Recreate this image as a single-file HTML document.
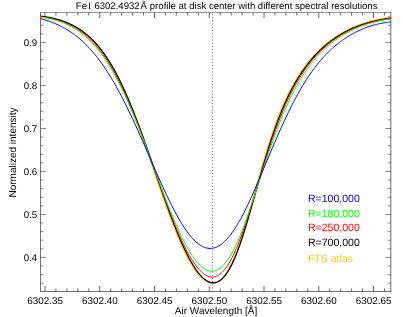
<!DOCTYPE html>
<html><head><meta charset="utf-8"><title>Fe I profile</title>
<style>html,body{margin:0;padding:0;background:#fff;overflow:hidden}body{width:403px;height:317px;font-family:"Liberation Sans",sans-serif}svg text{font-family:"Liberation Sans",sans-serif}</style></head>
<body>
<svg width="403" height="317" viewBox="0 0 403 317" style="display:block;will-change:transform">
<rect width="403" height="317" fill="#fff"/>
<clipPath id="c"><rect x="40.2" y="12.5" width="350.90" height="279.0"/></clipPath>
<g fill="none" stroke="#000"><path d="M40.5,12.3V291.8" stroke-width="0.55"/><path d="M40.25,12.5H391.1" stroke-width="0.42"/><path d="M390.8,12.3V291.8" stroke-width="0.6"/><path d="M40.25,291.5H391.1" stroke-width="0.56"/></g>
<path d="M45.00,291.5v-5.5M45.00,12.5v5.5M55.95,291.5v-3.0M55.95,12.5v3.0M66.90,291.5v-3.0M66.90,12.5v3.0M77.85,291.5v-3.0M77.85,12.5v3.0M88.80,291.5v-3.0M88.80,12.5v3.0M99.75,291.5v-5.5M99.75,12.5v5.5M110.70,291.5v-3.0M110.70,12.5v3.0M121.65,291.5v-3.0M121.65,12.5v3.0M132.60,291.5v-3.0M132.60,12.5v3.0M143.55,291.5v-3.0M143.55,12.5v3.0M154.50,291.5v-5.5M154.50,12.5v5.5M165.45,291.5v-3.0M165.45,12.5v3.0M176.40,291.5v-3.0M176.40,12.5v3.0M187.35,291.5v-3.0M187.35,12.5v3.0M198.30,291.5v-3.0M198.30,12.5v3.0M209.25,291.5v-5.5M209.25,12.5v5.5M220.20,291.5v-3.0M220.20,12.5v3.0M231.15,291.5v-3.0M231.15,12.5v3.0M242.10,291.5v-3.0M242.10,12.5v3.0M253.05,291.5v-3.0M253.05,12.5v3.0M264.00,291.5v-5.5M264.00,12.5v5.5M274.95,291.5v-3.0M274.95,12.5v3.0M285.90,291.5v-3.0M285.90,12.5v3.0M296.85,291.5v-3.0M296.85,12.5v3.0M307.80,291.5v-3.0M307.80,12.5v3.0M318.75,291.5v-5.5M318.75,12.5v5.5M329.70,291.5v-3.0M329.70,12.5v3.0M340.65,291.5v-3.0M340.65,12.5v3.0M351.60,291.5v-3.0M351.60,12.5v3.0M362.55,291.5v-3.0M362.55,12.5v3.0M373.50,291.5v-5.5M373.50,12.5v5.5M384.45,291.5v-3.0M384.45,12.5v3.0" fill="none" stroke="#000" stroke-width="0.6"/>
<path d="M40.5,283.21h3.0M390.8,283.21h-3.0M40.5,274.61h3.0M390.8,274.61h-3.0M40.5,266.02h3.0M390.8,266.02h-3.0M40.5,257.42h5.5M390.8,257.42h-5.5M40.5,248.82h3.0M390.8,248.82h-3.0M40.5,240.23h3.0M390.8,240.23h-3.0M40.5,231.63h3.0M390.8,231.63h-3.0M40.5,223.03h3.0M390.8,223.03h-3.0M40.5,214.44h5.5M390.8,214.44h-5.5M40.5,205.84h3.0M390.8,205.84h-3.0M40.5,197.24h3.0M390.8,197.24h-3.0M40.5,188.64h3.0M390.8,188.64h-3.0M40.5,180.05h3.0M390.8,180.05h-3.0M40.5,171.45h5.5M390.8,171.45h-5.5M40.5,162.85h3.0M390.8,162.85h-3.0M40.5,154.26h3.0M390.8,154.26h-3.0M40.5,145.66h3.0M390.8,145.66h-3.0M40.5,137.06h3.0M390.8,137.06h-3.0M40.5,128.47h5.5M390.8,128.47h-5.5M40.5,119.87h3.0M390.8,119.87h-3.0M40.5,111.27h3.0M390.8,111.27h-3.0M40.5,102.67h3.0M390.8,102.67h-3.0M40.5,94.08h3.0M390.8,94.08h-3.0M40.5,85.48h5.5M390.8,85.48h-5.5M40.5,76.88h3.0M390.8,76.88h-3.0M40.5,68.29h3.0M390.8,68.29h-3.0M40.5,59.69h3.0M390.8,59.69h-3.0M40.5,51.09h3.0M390.8,51.09h-3.0M40.5,42.50h5.5M390.8,42.50h-5.5M40.5,33.90h3.0M390.8,33.90h-3.0M40.5,25.30h3.0M390.8,25.30h-3.0M40.5,16.70h3.0M390.8,16.70h-3.0" fill="none" stroke="#000" stroke-width="0.47"/>
<line x1="212.45" y1="14.25" x2="212.45" y2="291.5" stroke="#1a1a1a" stroke-width="0.8" stroke-dasharray="0.85 2.328"/>
<g clip-path="url(#c)" fill="none" stroke-width="0.95" stroke-linejoin="round">
<path d="M39.43,16.39 L40.52,16.50 L41.62,16.63 L42.71,16.76 L43.81,16.90 L44.90,17.06 L45.99,17.22 L47.09,17.40 L48.18,17.59 L49.28,17.79 L50.37,18.00 L51.47,18.23 L52.56,18.47 L53.65,18.72 L54.75,18.99 L55.84,19.27 L56.94,19.56 L58.03,19.88 L59.13,20.20 L60.22,20.54 L61.31,20.90 L62.41,21.28 L63.50,21.68 L64.60,22.09 L65.69,22.52 L66.79,22.97 L67.88,23.44 L68.97,23.93 L70.07,24.45 L71.16,24.98 L72.26,25.54 L73.35,26.13 L74.45,26.73 L75.54,27.37 L76.63,28.02 L77.73,28.70 L78.82,29.41 L79.92,30.15 L81.01,30.91 L82.11,31.70 L83.20,32.52 L84.29,33.37 L85.39,34.26 L86.48,35.17 L87.58,36.12 L88.67,37.10 L89.77,38.12 L90.86,39.17 L91.95,40.26 L93.05,41.39 L94.14,42.55 L95.24,43.75 L96.33,45.00 L97.43,46.29 L98.52,47.61 L99.61,48.98 L100.71,50.40 L101.80,51.85 L102.90,53.35 L103.99,54.90 L105.09,56.50 L106.18,58.13 L107.28,59.82 L108.37,61.56 L109.46,63.34 L110.56,65.17 L111.65,67.05 L112.75,68.97 L113.84,70.95 L114.94,72.97 L116.03,75.05 L117.12,77.17 L118.22,79.34 L119.31,81.56 L120.41,83.83 L121.50,86.15 L122.60,88.51 L123.69,90.92 L124.78,93.38 L125.88,95.88 L126.97,98.43 L128.07,101.02 L129.16,103.65 L130.26,106.33 L131.35,109.04 L132.44,111.80 L133.54,114.59 L134.63,117.42 L135.73,120.29 L136.82,123.19 L137.92,126.12 L139.01,129.08 L140.10,132.08 L141.20,135.09 L142.29,138.14 L143.39,141.21 L144.48,144.30 L145.58,147.40 L146.67,150.53 L147.76,153.67 L148.86,156.82 L149.95,159.99 L151.05,163.16 L152.14,166.34 L153.24,169.53 L154.33,172.71 L155.42,175.90 L156.52,179.08 L157.61,182.26 L158.71,185.43 L159.80,188.59 L160.90,191.74 L161.99,194.87 L163.08,197.98 L164.18,201.08 L165.27,204.15 L166.37,207.20 L167.46,210.22 L168.56,213.21 L169.65,216.17 L170.74,219.10 L171.84,221.99 L172.93,224.84 L174.03,227.65 L175.12,230.41 L176.22,233.13 L177.31,235.80 L178.40,238.43 L179.50,240.99 L180.59,243.51 L181.69,245.97 L182.78,248.36 L183.88,250.70 L184.97,252.98 L186.06,255.19 L187.16,257.33 L188.25,259.40 L189.35,261.40 L190.44,263.33 L191.54,265.19 L192.63,266.97 L193.72,268.67 L194.82,270.29 L195.91,271.83 L197.01,273.28 L198.10,274.65 L199.20,275.93 L200.29,277.12 L201.38,278.21 L202.48,279.22 L203.57,280.12 L204.67,280.93 L205.76,281.64 L206.86,282.24 L207.95,282.74 L209.04,283.13 L210.14,283.42 L211.23,283.58 L212.33,283.63 L213.42,283.57 L214.52,283.38 L215.61,283.07 L216.71,282.64 L217.80,282.07 L218.89,281.38 L219.99,280.55 L221.08,279.60 L222.18,278.50 L223.27,277.27 L224.37,275.90 L225.46,274.39 L226.55,272.74 L227.65,270.95 L228.74,269.02 L229.84,266.95 L230.93,264.75 L232.03,262.41 L233.12,259.94 L234.21,257.34 L235.31,254.61 L236.40,251.76 L237.50,248.79 L238.59,245.70 L239.69,242.51 L240.78,239.22 L241.87,235.83 L242.97,232.35 L244.06,228.79 L245.16,225.15 L246.25,221.45 L247.35,217.68 L248.44,213.87 L249.53,210.01 L250.63,206.12 L251.72,202.20 L252.82,198.26 L253.91,194.30 L255.01,190.35 L256.10,186.40 L257.19,182.46 L258.29,178.54 L259.38,174.65 L260.48,170.78 L261.57,166.96 L262.67,163.17 L263.76,159.44 L264.85,155.76 L265.95,152.13 L267.04,148.56 L268.14,145.06 L269.23,141.62 L270.33,138.25 L271.42,134.96 L272.51,131.73 L273.61,128.57 L274.70,125.49 L275.80,122.49 L276.89,119.55 L277.99,116.69 L279.08,113.91 L280.17,111.19 L281.27,108.55 L282.36,105.97 L283.46,103.47 L284.55,101.03 L285.65,98.66 L286.74,96.36 L287.83,94.12 L288.93,91.93 L290.02,89.81 L291.12,87.75 L292.21,85.74 L293.31,83.78 L294.40,81.88 L295.49,80.03 L296.59,78.23 L297.68,76.48 L298.78,74.77 L299.87,73.11 L300.97,71.48 L302.06,69.89 L303.15,68.34 L304.25,66.84 L305.34,65.37 L306.44,63.93 L307.53,62.54 L308.63,61.18 L309.72,59.85 L310.81,58.55 L311.91,57.29 L313.00,56.06 L314.10,54.86 L315.19,53.69 L316.29,52.55 L317.38,51.43 L318.47,50.35 L319.57,49.28 L320.66,48.25 L321.76,47.24 L322.85,46.26 L323.95,45.30 L325.04,44.36 L326.14,43.45 L327.23,42.56 L328.32,41.69 L329.42,40.84 L330.51,40.02 L331.61,39.21 L332.70,38.43 L333.80,37.66 L334.89,36.92 L335.98,36.19 L337.08,35.48 L338.17,34.79 L339.27,34.12 L340.36,33.46 L341.46,32.82 L342.55,32.20 L343.64,31.60 L344.74,31.01 L345.83,30.43 L346.93,29.87 L348.02,29.33 L349.12,28.80 L350.21,28.28 L351.30,27.78 L352.40,27.30 L353.49,26.82 L354.59,26.36 L355.68,25.91 L356.78,25.48 L357.87,25.05 L358.96,24.64 L360.06,24.25 L361.15,23.86 L362.25,23.48 L363.34,23.12 L364.44,22.77 L365.53,22.42 L366.62,22.09 L367.72,21.77 L368.81,21.46 L369.91,21.16 L371.00,20.87 L372.10,20.58 L373.19,20.31 L374.28,20.05 L375.38,19.80 L376.47,19.55 L377.57,19.31 L378.66,19.09 L379.76,18.87 L380.85,18.66 L381.94,18.46 L383.04,18.26 L384.13,18.07 L385.23,17.90 L386.32,17.72 L387.42,17.56 L388.51,17.40 L389.60,17.26 L390.70,17.11 L391.79,16.98" stroke="#ffcc00" stroke-width="1.0"/>
<path d="M39.43,16.07 L40.52,16.19 L41.62,16.32 L42.71,16.46 L43.81,16.60 L44.90,16.76 L45.99,16.93 L47.09,17.11 L48.18,17.30 L49.28,17.50 L50.37,17.71 L51.47,17.94 L52.56,18.18 L53.65,18.43 L54.75,18.69 L55.84,18.97 L56.94,19.26 L58.03,19.57 L59.13,19.89 L60.22,20.22 L61.31,20.58 L62.41,20.94 L63.50,21.33 L64.60,21.73 L65.69,22.15 L66.79,22.59 L67.88,23.05 L68.97,23.53 L70.07,24.03 L71.16,24.55 L72.26,25.09 L73.35,25.66 L74.45,26.25 L75.54,26.86 L76.63,27.49 L77.73,28.15 L78.82,28.84 L79.92,29.55 L81.01,30.29 L82.11,31.06 L83.20,31.85 L84.29,32.68 L85.39,33.53 L86.48,34.42 L87.58,35.34 L88.67,36.29 L89.77,37.28 L90.86,38.30 L91.95,39.35 L93.05,40.45 L94.14,41.58 L95.24,42.75 L96.33,43.95 L97.43,45.20 L98.52,46.49 L99.61,47.82 L100.71,49.19 L101.80,50.61 L102.90,52.06 L103.99,53.57 L105.09,55.12 L106.18,56.71 L107.28,58.35 L108.37,60.03 L109.46,61.77 L110.56,63.55 L111.65,65.38 L112.75,67.25 L113.84,69.18 L114.94,71.15 L116.03,73.17 L117.12,75.24 L118.22,77.36 L119.31,79.53 L120.41,81.74 L121.50,84.00 L122.60,86.31 L123.69,88.67 L124.78,91.07 L125.88,93.52 L126.97,96.01 L128.07,98.55 L129.16,101.13 L130.26,103.75 L131.35,106.41 L132.44,109.12 L133.54,111.86 L134.63,114.64 L135.73,117.46 L136.82,120.31 L137.92,123.20 L139.01,126.12 L140.10,129.07 L141.20,132.04 L142.29,135.05 L143.39,138.07 L144.48,141.13 L145.58,144.20 L146.67,147.29 L147.76,150.40 L148.86,153.52 L149.95,156.66 L151.05,159.81 L152.14,162.97 L153.24,166.13 L154.33,169.30 L155.42,172.47 L156.52,175.63 L157.61,178.80 L158.71,181.96 L159.80,185.11 L160.90,188.26 L161.99,191.39 L163.08,194.50 L164.18,197.60 L165.27,200.68 L166.37,203.74 L167.46,206.77 L168.56,209.78 L169.65,212.75 L170.74,215.70 L171.84,218.61 L172.93,221.48 L174.03,224.32 L175.12,227.12 L176.22,229.87 L177.31,232.58 L178.40,235.23 L179.50,237.84 L180.59,240.40 L181.69,242.90 L182.78,245.35 L183.88,247.74 L184.97,250.07 L186.06,252.33 L187.16,254.53 L188.25,256.66 L189.35,258.73 L190.44,260.72 L191.54,262.64 L192.63,264.49 L193.72,266.26 L194.82,267.95 L195.91,269.57 L197.01,271.10 L198.10,272.54 L199.20,273.90 L200.29,275.17 L201.38,276.36 L202.48,277.44 L203.57,278.44 L204.67,279.34 L205.76,280.14 L206.86,280.84 L207.95,281.43 L209.04,281.92 L210.14,282.30 L211.23,282.57 L212.33,282.73 L213.42,282.77 L214.52,282.70 L215.61,282.50 L216.71,282.19 L217.80,281.75 L218.89,281.18 L219.99,280.48 L221.08,279.65 L222.18,278.69 L223.27,277.60 L224.37,276.37 L225.46,275.00 L226.55,273.50 L227.65,271.86 L228.74,270.09 L229.84,268.18 L230.93,266.13 L232.03,263.95 L233.12,261.64 L234.21,259.20 L235.31,256.63 L236.40,253.94 L237.50,251.13 L238.59,248.20 L239.69,245.16 L240.78,242.02 L241.87,238.78 L242.97,235.45 L244.06,232.02 L245.16,228.52 L246.25,224.94 L247.35,221.30 L248.44,217.60 L249.53,213.84 L250.63,210.05 L251.72,206.21 L252.82,202.35 L253.91,198.47 L255.01,194.58 L256.10,190.68 L257.19,186.78 L258.29,182.89 L259.38,179.01 L260.48,175.16 L261.57,171.34 L262.67,167.55 L263.76,163.80 L264.85,160.09 L265.95,156.44 L267.04,152.83 L268.14,149.28 L269.23,145.80 L270.33,142.37 L271.42,139.01 L272.51,135.72 L273.61,132.50 L274.70,129.34 L275.80,126.26 L276.89,123.25 L277.99,120.31 L279.08,117.44 L280.17,114.64 L281.27,111.91 L282.36,109.26 L283.46,106.67 L284.55,104.15 L285.65,101.70 L286.74,99.31 L287.83,96.99 L288.93,94.73 L290.02,92.53 L291.12,90.39 L292.21,88.31 L293.31,86.29 L294.40,84.32 L295.49,82.40 L296.59,80.53 L297.68,78.72 L298.78,76.95 L299.87,75.23 L300.97,73.55 L302.06,71.92 L303.15,70.33 L304.25,68.78 L305.34,67.27 L306.44,65.80 L307.53,64.37 L308.63,62.97 L309.72,61.61 L310.81,60.29 L311.91,59.00 L313.00,57.73 L314.10,56.51 L315.19,55.31 L316.29,54.14 L317.38,53.00 L318.47,51.89 L319.57,50.81 L320.66,49.75 L321.76,48.72 L322.85,47.71 L323.95,46.74 L325.04,45.78 L326.14,44.85 L327.23,43.94 L328.32,43.06 L329.42,42.19 L330.51,41.35 L331.61,40.53 L332.70,39.73 L333.80,38.95 L334.89,38.19 L335.98,37.46 L337.08,36.73 L338.17,36.03 L339.27,35.35 L340.36,34.68 L341.46,34.03 L342.55,33.40 L343.64,32.79 L344.74,32.19 L345.83,31.61 L346.93,31.04 L348.02,30.49 L349.12,29.95 L350.21,29.43 L351.30,28.92 L352.40,28.43 L353.49,27.95 L354.59,27.48 L355.68,27.03 L356.78,26.59 L357.87,26.16 L358.96,25.75 L360.06,25.35 L361.15,24.95 L362.25,24.58 L363.34,24.21 L364.44,23.85 L365.53,23.51 L366.62,23.17 L367.72,22.85 L368.81,22.54 L369.91,22.24 L371.00,21.94 L372.10,21.66 L373.19,21.39 L374.28,21.12 L375.38,20.87 L376.47,20.63 L377.57,20.39 L378.66,20.16 L379.76,19.94 L380.85,19.73 L381.94,19.53 L383.04,19.34 L384.13,19.15 L385.23,18.98 L386.32,18.81 L387.42,18.65 L388.51,18.49 L389.60,18.34 L390.70,18.20 L391.79,18.07" stroke="#000000" stroke-width="1.3"/>
<path d="M39.43,16.51 L40.52,16.64 L41.62,16.78 L42.71,16.93 L43.81,17.09 L44.90,17.27 L45.99,17.45 L47.09,17.65 L48.18,17.85 L49.28,18.07 L50.37,18.31 L51.47,18.55 L52.56,18.81 L53.65,19.08 L54.75,19.37 L55.84,19.67 L56.94,19.98 L58.03,20.31 L59.13,20.66 L60.22,21.02 L61.31,21.40 L62.41,21.80 L63.50,22.21 L64.60,22.64 L65.69,23.10 L66.79,23.57 L67.88,24.06 L68.97,24.57 L70.07,25.11 L71.16,25.66 L72.26,26.24 L73.35,26.84 L74.45,27.47 L75.54,28.12 L76.63,28.80 L77.73,29.50 L78.82,30.23 L79.92,30.98 L81.01,31.76 L82.11,32.57 L83.20,33.41 L84.29,34.28 L85.39,35.18 L86.48,36.11 L87.58,37.08 L88.67,38.07 L89.77,39.10 L90.86,40.17 L91.95,41.27 L93.05,42.40 L94.14,43.58 L95.24,44.79 L96.33,46.04 L97.43,47.32 L98.52,48.65 L99.61,50.02 L100.71,51.43 L101.80,52.88 L102.90,54.37 L103.99,55.90 L105.09,57.48 L106.18,59.10 L107.28,60.76 L108.37,62.47 L109.46,64.23 L110.56,66.02 L111.65,67.87 L112.75,69.75 L113.84,71.69 L114.94,73.66 L116.03,75.69 L117.12,77.75 L118.22,79.87 L119.31,82.02 L120.41,84.23 L121.50,86.47 L122.60,88.76 L123.69,91.09 L124.78,93.47 L125.88,95.88 L126.97,98.34 L128.07,100.84 L129.16,103.38 L130.26,105.95 L131.35,108.56 L132.44,111.21 L133.54,113.90 L134.63,116.62 L135.73,119.37 L136.82,122.15 L137.92,124.96 L139.01,127.80 L140.10,130.67 L141.20,133.57 L142.29,136.48 L143.39,139.42 L144.48,142.38 L145.58,145.36 L146.67,148.36 L147.76,151.37 L148.86,154.39 L149.95,157.42 L151.05,160.47 L152.14,163.52 L153.24,166.57 L154.33,169.63 L155.42,172.68 L156.52,175.74 L157.61,178.79 L158.71,181.83 L159.80,184.87 L160.90,187.90 L161.99,190.91 L163.08,193.91 L164.18,196.89 L165.27,199.85 L166.37,202.78 L167.46,205.70 L168.56,208.58 L169.65,211.44 L170.74,214.27 L171.84,217.06 L172.93,219.82 L174.03,222.54 L175.12,225.22 L176.22,227.85 L177.31,230.44 L178.40,232.99 L179.50,235.49 L180.59,237.93 L181.69,240.32 L182.78,242.66 L183.88,244.93 L184.97,247.15 L186.06,249.31 L187.16,251.40 L188.25,253.42 L189.35,255.38 L190.44,257.27 L191.54,259.08 L192.63,260.82 L193.72,262.48 L194.82,264.07 L195.91,265.57 L197.01,266.99 L198.10,268.33 L199.20,269.58 L200.29,270.74 L201.38,271.80 L202.48,272.78 L203.57,273.66 L204.67,274.44 L205.76,275.12 L206.86,275.71 L207.95,276.18 L209.04,276.56 L210.14,276.82 L211.23,276.98 L212.33,277.03 L213.42,276.96 L214.52,276.78 L215.61,276.48 L216.71,276.07 L217.80,275.54 L218.89,274.89 L219.99,274.12 L221.08,273.23 L222.18,272.22 L223.27,271.08 L224.37,269.83 L225.46,268.45 L226.55,266.95 L227.65,265.33 L228.74,263.60 L229.84,261.74 L230.93,259.77 L232.03,257.68 L233.12,255.48 L234.21,253.17 L235.31,250.76 L236.40,248.24 L237.50,245.62 L238.59,242.90 L239.69,240.09 L240.78,237.19 L241.87,234.21 L242.97,231.15 L244.06,228.02 L245.16,224.81 L246.25,221.54 L247.35,218.22 L248.44,214.84 L249.53,211.42 L250.63,207.95 L251.72,204.45 L252.82,200.92 L253.91,197.37 L255.01,193.80 L256.10,190.22 L257.19,186.63 L258.29,183.04 L259.38,179.45 L260.48,175.88 L261.57,172.32 L262.67,168.78 L263.76,165.26 L264.85,161.77 L265.95,158.32 L267.04,154.90 L268.14,151.52 L269.23,148.18 L270.33,144.89 L271.42,141.65 L272.51,138.46 L273.61,135.32 L274.70,132.23 L275.80,129.20 L276.89,126.23 L277.99,123.32 L279.08,120.47 L280.17,117.68 L281.27,114.94 L282.36,112.27 L283.46,109.66 L284.55,107.11 L285.65,104.62 L286.74,102.19 L287.83,99.82 L288.93,97.51 L290.02,95.25 L291.12,93.05 L292.21,90.91 L293.31,88.82 L294.40,86.79 L295.49,84.81 L296.59,82.87 L297.68,80.99 L298.78,79.16 L299.87,77.38 L300.97,75.64 L302.06,73.94 L303.15,72.30 L304.25,70.69 L305.34,69.12 L306.44,67.60 L307.53,66.11 L308.63,64.67 L309.72,63.26 L310.81,61.89 L311.91,60.55 L313.00,59.24 L314.10,57.97 L315.19,56.74 L316.29,55.53 L317.38,54.35 L318.47,53.21 L319.57,52.09 L320.66,51.00 L321.76,49.94 L322.85,48.90 L323.95,47.90 L325.04,46.91 L326.14,45.95 L327.23,45.02 L328.32,44.11 L329.42,43.22 L330.51,42.36 L331.61,41.51 L332.70,40.69 L333.80,39.89 L334.89,39.11 L335.98,38.35 L337.08,37.61 L338.17,36.89 L339.27,36.19 L340.36,35.51 L341.46,34.84 L342.55,34.19 L343.64,33.56 L344.74,32.95 L345.83,32.35 L346.93,31.76 L348.02,31.20 L349.12,30.65 L350.21,30.11 L351.30,29.59 L352.40,29.08 L353.49,28.59 L354.59,28.11 L355.68,27.65 L356.78,27.19 L357.87,26.76 L358.96,26.33 L360.06,25.92 L361.15,25.51 L362.25,25.13 L363.34,24.75 L364.44,24.38 L365.53,24.03 L366.62,23.68 L367.72,23.35 L368.81,23.03 L369.91,22.72 L371.00,22.42 L372.10,22.13 L373.19,21.84 L374.28,21.57 L375.38,21.31 L376.47,21.06 L377.57,20.81 L378.66,20.58 L379.76,20.36 L380.85,20.14 L381.94,19.93 L383.04,19.73 L384.13,19.54 L385.23,19.36 L386.32,19.18 L387.42,19.01 L388.51,18.85 L389.60,18.70 L390.70,18.55 L391.79,18.42" stroke="#ff0000" stroke-width="1.0"/>
<path d="M39.43,16.93 L40.52,17.08 L41.62,17.23 L42.71,17.39 L43.81,17.57 L44.90,17.75 L45.99,17.95 L47.09,18.16 L48.18,18.38 L49.28,18.61 L50.37,18.86 L51.47,19.12 L52.56,19.40 L53.65,19.69 L54.75,19.99 L55.84,20.31 L56.94,20.65 L58.03,21.00 L59.13,21.36 L60.22,21.75 L61.31,22.15 L62.41,22.57 L63.50,23.01 L64.60,23.47 L65.69,23.94 L66.79,24.44 L67.88,24.96 L68.97,25.50 L70.07,26.06 L71.16,26.65 L72.26,27.25 L73.35,27.88 L74.45,28.54 L75.54,29.22 L76.63,29.93 L77.73,30.66 L78.82,31.42 L79.92,32.20 L81.01,33.01 L82.11,33.85 L83.20,34.72 L84.29,35.62 L85.39,36.55 L86.48,37.51 L87.58,38.50 L88.67,39.53 L89.77,40.59 L90.86,41.68 L91.95,42.80 L93.05,43.97 L94.14,45.16 L95.24,46.40 L96.33,47.67 L97.43,48.97 L98.52,50.32 L99.61,51.70 L100.71,53.13 L101.80,54.59 L102.90,56.09 L103.99,57.64 L105.09,59.22 L106.18,60.84 L107.28,62.51 L108.37,64.22 L109.46,65.97 L110.56,67.76 L111.65,69.59 L112.75,71.47 L113.84,73.39 L114.94,75.35 L116.03,77.35 L117.12,79.40 L118.22,81.48 L119.31,83.61 L120.41,85.78 L121.50,87.98 L122.60,90.23 L123.69,92.52 L124.78,94.85 L125.88,97.22 L126.97,99.62 L128.07,102.06 L129.16,104.54 L130.26,107.05 L131.35,109.59 L132.44,112.17 L133.54,114.79 L134.63,117.43 L135.73,120.10 L136.82,122.80 L137.92,125.53 L139.01,128.28 L140.10,131.06 L141.20,133.87 L142.29,136.69 L143.39,139.53 L144.48,142.39 L145.58,145.27 L146.67,148.16 L147.76,151.07 L148.86,153.99 L149.95,156.91 L151.05,159.85 L152.14,162.79 L153.24,165.73 L154.33,168.68 L155.42,171.62 L156.52,174.57 L157.61,177.50 L158.71,180.43 L159.80,183.36 L160.90,186.27 L161.99,189.17 L163.08,192.05 L164.18,194.92 L165.27,197.77 L166.37,200.59 L167.46,203.40 L168.56,206.17 L169.65,208.92 L170.74,211.64 L171.84,214.32 L172.93,216.97 L174.03,219.59 L175.12,222.16 L176.22,224.69 L177.31,227.18 L178.40,229.62 L179.50,232.02 L180.59,234.37 L181.69,236.66 L182.78,238.90 L183.88,241.08 L184.97,243.20 L186.06,245.26 L187.16,247.26 L188.25,249.20 L189.35,251.06 L190.44,252.86 L191.54,254.59 L192.63,256.24 L193.72,257.82 L194.82,259.32 L195.91,260.74 L197.01,262.08 L198.10,263.33 L199.20,264.50 L200.29,265.58 L201.38,266.58 L202.48,267.48 L203.57,268.29 L204.67,269.00 L205.76,269.62 L206.86,270.14 L207.95,270.55 L209.04,270.87 L210.14,271.09 L211.23,271.20 L212.33,271.21 L213.42,271.11 L214.52,270.90 L215.61,270.58 L216.71,270.16 L217.80,269.63 L218.89,268.98 L219.99,268.23 L221.08,267.36 L222.18,266.38 L223.27,265.30 L224.37,264.10 L225.46,262.80 L226.55,261.38 L227.65,259.86 L228.74,258.23 L229.84,256.50 L230.93,254.66 L232.03,252.73 L233.12,250.69 L234.21,248.56 L235.31,246.33 L236.40,244.01 L237.50,241.60 L238.59,239.11 L239.69,236.53 L240.78,233.88 L241.87,231.15 L242.97,228.35 L244.06,225.48 L245.16,222.55 L246.25,219.56 L247.35,216.52 L248.44,213.43 L249.53,210.29 L250.63,207.12 L251.72,203.90 L252.82,200.66 L253.91,197.39 L255.01,194.10 L256.10,190.79 L257.19,187.47 L258.29,184.13 L259.38,180.80 L260.48,177.46 L261.57,174.13 L262.67,170.81 L263.76,167.50 L264.85,164.21 L265.95,160.94 L267.04,157.69 L268.14,154.47 L269.23,151.27 L270.33,148.11 L271.42,144.98 L272.51,141.90 L273.61,138.85 L274.70,135.84 L275.80,132.88 L276.89,129.96 L277.99,127.09 L279.08,124.27 L280.17,121.50 L281.27,118.77 L282.36,116.10 L283.46,113.48 L284.55,110.92 L285.65,108.40 L286.74,105.94 L287.83,103.53 L288.93,101.17 L290.02,98.87 L291.12,96.62 L292.21,94.42 L293.31,92.27 L294.40,90.17 L295.49,88.12 L296.59,86.12 L297.68,84.17 L298.78,82.27 L299.87,80.42 L300.97,78.61 L302.06,76.84 L303.15,75.12 L304.25,73.45 L305.34,71.81 L306.44,70.22 L307.53,68.67 L308.63,67.15 L309.72,65.68 L310.81,64.24 L311.91,62.84 L313.00,61.48 L314.10,60.15 L315.19,58.85 L316.29,57.59 L317.38,56.36 L318.47,55.16 L319.57,53.99 L320.66,52.86 L321.76,51.75 L322.85,50.67 L323.95,49.61 L325.04,48.59 L326.14,47.59 L327.23,46.61 L328.32,45.66 L329.42,44.74 L330.51,43.83 L331.61,42.96 L332.70,42.10 L333.80,41.27 L334.89,40.45 L335.98,39.66 L337.08,38.89 L338.17,38.14 L339.27,37.41 L340.36,36.70 L341.46,36.00 L342.55,35.33 L343.64,34.67 L344.74,34.03 L345.83,33.41 L346.93,32.80 L348.02,32.21 L349.12,31.64 L350.21,31.08 L351.30,30.54 L352.40,30.01 L353.49,29.50 L354.59,29.00 L355.68,28.52 L356.78,28.04 L357.87,27.59 L358.96,27.14 L360.06,26.71 L361.15,26.29 L362.25,25.89 L363.34,25.49 L364.44,25.11 L365.53,24.74 L366.62,24.38 L367.72,24.04 L368.81,23.70 L369.91,23.37 L371.00,23.06 L372.10,22.75 L373.19,22.46 L374.28,22.17 L375.38,21.90 L376.47,21.64 L377.57,21.38 L378.66,21.13 L379.76,20.90 L380.85,20.67 L381.94,20.45 L383.04,20.24 L384.13,20.04 L385.23,19.84 L386.32,19.66 L387.42,19.48 L388.51,19.31 L389.60,19.15 L390.70,18.99 L391.79,18.85" stroke="#00ff00" stroke-width="1.0"/>
<path d="M39.43,18.36 L40.52,18.64 L41.62,18.94 L42.71,19.25 L43.81,19.56 L44.90,19.89 L45.99,20.24 L47.09,20.59 L48.18,20.96 L49.28,21.34 L50.37,21.73 L51.47,22.14 L52.56,22.56 L53.65,23.00 L54.75,23.45 L55.84,23.92 L56.94,24.40 L58.03,24.90 L59.13,25.42 L60.22,25.95 L61.31,26.50 L62.41,27.07 L63.50,27.66 L64.60,28.26 L65.69,28.89 L66.79,29.53 L67.88,30.20 L68.97,30.88 L70.07,31.59 L71.16,32.32 L72.26,33.07 L73.35,33.85 L74.45,34.64 L75.54,35.46 L76.63,36.31 L77.73,37.18 L78.82,38.07 L79.92,39.00 L81.01,39.95 L82.11,40.92 L83.20,41.93 L84.29,42.96 L85.39,44.02 L86.48,45.11 L87.58,46.22 L88.67,47.37 L89.77,48.55 L90.86,49.76 L91.95,50.99 L93.05,52.26 L94.14,53.56 L95.24,54.89 L96.33,56.25 L97.43,57.65 L98.52,59.07 L99.61,60.53 L100.71,62.02 L101.80,63.54 L102.90,65.09 L103.99,66.68 L105.09,68.30 L106.18,69.95 L107.28,71.63 L108.37,73.34 L109.46,75.09 L110.56,76.87 L111.65,78.68 L112.75,80.52 L113.84,82.40 L114.94,84.30 L116.03,86.24 L117.12,88.20 L118.22,90.20 L119.31,92.22 L120.41,94.27 L121.50,96.36 L122.60,98.47 L123.69,100.60 L124.78,102.77 L125.88,104.96 L126.97,107.17 L128.07,109.41 L129.16,111.68 L130.26,113.96 L131.35,116.27 L132.44,118.60 L133.54,120.95 L134.63,123.32 L135.73,125.70 L136.82,128.11 L137.92,130.53 L139.01,132.96 L140.10,135.41 L141.20,137.87 L142.29,140.34 L143.39,142.82 L144.48,145.31 L145.58,147.80 L146.67,150.30 L147.76,152.81 L148.86,155.32 L149.95,157.83 L151.05,160.34 L152.14,162.84 L153.24,165.35 L154.33,167.84 L155.42,170.34 L156.52,172.82 L157.61,175.29 L158.71,177.75 L159.80,180.20 L160.90,182.63 L161.99,185.05 L163.08,187.45 L164.18,189.82 L165.27,192.18 L166.37,194.51 L167.46,196.81 L168.56,199.09 L169.65,201.33 L170.74,203.55 L171.84,205.73 L172.93,207.88 L174.03,209.99 L175.12,212.07 L176.22,214.10 L177.31,216.09 L178.40,218.03 L179.50,219.94 L180.59,221.79 L181.69,223.59 L182.78,225.35 L183.88,227.05 L184.97,228.70 L186.06,230.29 L187.16,231.82 L188.25,233.30 L189.35,234.71 L190.44,236.07 L191.54,237.36 L192.63,238.58 L193.72,239.74 L194.82,240.83 L195.91,241.86 L197.01,242.81 L198.10,243.69 L199.20,244.50 L200.29,245.24 L201.38,245.90 L202.48,246.49 L203.57,247.00 L204.67,247.43 L205.76,247.79 L206.86,248.07 L207.95,248.27 L209.04,248.39 L210.14,248.43 L211.23,248.40 L212.33,248.28 L213.42,248.08 L214.52,247.80 L215.61,247.45 L216.71,247.01 L217.80,246.49 L218.89,245.89 L219.99,245.22 L221.08,244.46 L222.18,243.63 L223.27,242.72 L224.37,241.73 L225.46,240.67 L226.55,239.54 L227.65,238.33 L228.74,237.04 L229.84,235.69 L230.93,234.27 L232.03,232.78 L233.12,231.22 L234.21,229.59 L235.31,227.91 L236.40,226.16 L237.50,224.35 L238.59,222.48 L239.69,220.55 L240.78,218.57 L241.87,216.54 L242.97,214.46 L244.06,212.33 L245.16,210.15 L246.25,207.93 L247.35,205.67 L248.44,203.37 L249.53,201.03 L250.63,198.66 L251.72,196.26 L252.82,193.82 L253.91,191.36 L255.01,188.87 L256.10,186.36 L257.19,183.83 L258.29,181.29 L259.38,178.72 L260.48,176.15 L261.57,173.56 L262.67,170.96 L263.76,168.36 L264.85,165.76 L265.95,163.15 L267.04,160.54 L268.14,157.93 L269.23,155.33 L270.33,152.74 L271.42,150.15 L272.51,147.57 L273.61,145.01 L274.70,142.46 L275.80,139.92 L276.89,137.40 L277.99,134.90 L279.08,132.41 L280.17,129.95 L281.27,127.52 L282.36,125.10 L283.46,122.71 L284.55,120.35 L285.65,118.01 L286.74,115.70 L287.83,113.42 L288.93,111.17 L290.02,108.95 L291.12,106.76 L292.21,104.60 L293.31,102.48 L294.40,100.39 L295.49,98.33 L296.59,96.30 L297.68,94.31 L298.78,92.35 L299.87,90.43 L300.97,88.54 L302.06,86.68 L303.15,84.86 L304.25,83.08 L305.34,81.33 L306.44,79.61 L307.53,77.92 L308.63,76.28 L309.72,74.66 L310.81,73.08 L311.91,71.53 L313.00,70.02 L314.10,68.53 L315.19,67.08 L316.29,65.67 L317.38,64.28 L318.47,62.92 L319.57,61.60 L320.66,60.31 L321.76,59.04 L322.85,57.81 L323.95,56.60 L325.04,55.43 L326.14,54.28 L327.23,53.16 L328.32,52.06 L329.42,51.00 L330.51,49.96 L331.61,48.94 L332.70,47.95 L333.80,46.99 L334.89,46.05 L335.98,45.13 L337.08,44.23 L338.17,43.36 L339.27,42.51 L340.36,41.69 L341.46,40.88 L342.55,40.10 L343.64,39.33 L344.74,38.59 L345.83,37.87 L346.93,37.16 L348.02,36.48 L349.12,35.81 L350.21,35.16 L351.30,34.53 L352.40,33.92 L353.49,33.32 L354.59,32.74 L355.68,32.17 L356.78,31.62 L357.87,31.09 L358.96,30.57 L360.06,30.07 L361.15,29.58 L362.25,29.11 L363.34,28.66 L364.44,28.22 L365.53,27.80 L366.62,27.40 L367.72,27.01 L368.81,26.63 L369.91,26.27 L371.00,25.92 L372.10,25.59 L373.19,25.27 L374.28,24.97 L375.38,24.68 L376.47,24.40 L377.57,24.14 L378.66,23.89 L379.76,23.65 L380.85,23.42 L381.94,23.21 L383.04,23.01 L384.13,22.82 L385.23,22.64 L386.32,22.48 L387.42,22.33 L388.51,22.18 L389.60,22.05 L390.70,21.93 L391.79,21.82" stroke="#0000ff" stroke-width="1.0"/>
</g>
<g font-family="Liberation Sans, sans-serif" fill="#000" text-rendering="geometricPrecision">
<text y="8.9" font-size="9.58"><tspan x="75.8">Fe</tspan><tspan x="87.9" font-family="Liberation Serif, serif">I</tspan><tspan x="94.4">6302.4932</tspan><tspan x="140.6">Å</tspan><tspan x="149.8">profile at disk center with different spectral resolutions</tspan></text>
<text x="45.10" y="304.2" font-size="9.85" text-anchor="middle">6302.35</text>
<text x="99.85" y="304.2" font-size="9.85" text-anchor="middle">6302.40</text>
<text x="154.60" y="304.2" font-size="9.85" text-anchor="middle">6302.45</text>
<text x="209.35" y="304.2" font-size="9.85" text-anchor="middle">6302.50</text>
<text x="264.10" y="304.2" font-size="9.85" text-anchor="middle">6302.55</text>
<text x="318.85" y="304.2" font-size="9.85" text-anchor="middle">6302.60</text>
<text x="373.60" y="304.2" font-size="9.85" text-anchor="middle">6302.65</text>
<text x="37.3" y="260.72" font-size="9.75" text-anchor="end">0.4</text>
<text x="37.3" y="217.74" font-size="9.75" text-anchor="end">0.5</text>
<text x="37.3" y="174.75" font-size="9.75" text-anchor="end">0.6</text>
<text x="37.3" y="131.77" font-size="9.75" text-anchor="end">0.7</text>
<text x="37.3" y="88.78" font-size="9.75" text-anchor="end">0.8</text>
<text x="37.3" y="45.80" font-size="9.75" text-anchor="end">0.9</text>
<text x="216.1" y="314.3" font-size="10" text-anchor="middle">Air Wavelength [Å]</text>
<text transform="translate(15.8,152.5) rotate(-90)" font-size="10" text-anchor="middle">Normalized intensity</text>
<text x="307.9" y="201.5" font-size="10.55" fill="#0000ff">R=100,000</text>
<text x="307.9" y="216.5" font-size="10.55" fill="#00ff00">R=180,000</text>
<text x="307.9" y="231.1" font-size="10.55" fill="#ff0000">R=250,000</text>
<text x="307.9" y="246.0" font-size="10.55" fill="#000000">R=700,000</text>
<text x="307.9" y="261.5" font-size="10.55" fill="#ffcc00">FTS atlas</text>
</g>
</svg>
</body></html>
